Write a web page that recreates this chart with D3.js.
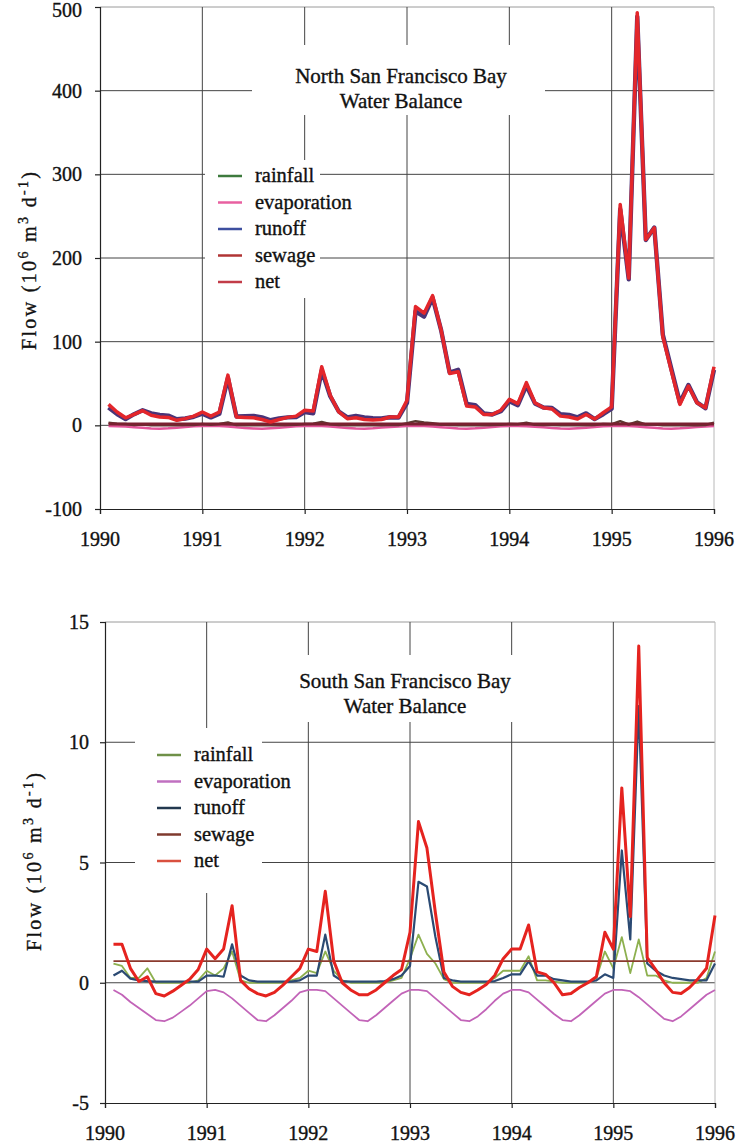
<!DOCTYPE html>
<html>
<head>
<meta charset="utf-8">
<script src="https://cdn.jsdelivr.net/npm/d3@7"></script>
<style>
    body { margin: 0; background: #fff; }
    svg text {
        font-family: "Liberation Serif", "Times New Roman", serif;
        fill: #111;
        stroke: #111;
        stroke-width: 0.35px;
    }
</style>
</head>
<body>
<svg id="chart" width="745" height="1148"></svg>
<script>
// year ticks shared by both panels
const years = [1990, 1991, 1992, 1993, 1994, 1995, 1996];
const seriesNames = ["rainfall", "evaporation", "runoff", "sewage", "net"];

const northTicks = [-100, 0, 100, 200, 300, 400, 500];
const southTicks = [-5, 0, 5, 10, 15];

// monthly flows, Jan 1990 .. Dec 1995 (10^6 m3/d)
const northRainfall = [
    3, 2, 1.5, 0.5, 1, 0, 0, 0, 0, 0.3, 0.5, 1.5,
    0.8, 1.5, 3.5, 0.3, 0, 0, 0, 0, 0, 0.5, 0.8, 1.5,
    1.8, 4, 1.2, 0.3, 0, 0, 0, 0, 0, 0.8, 0.5, 2.5,
    5, 3.5, 2.5, 1, 0.5, 0, 0, 0, 0, 0.5, 0.8, 1.5,
    1.2, 3, 0.8, 0.5, 0.3, 0, 0, 0, 0, 0.5, 1.5, 1.3,
    5, 1, 4.5, 1.2, 1, 0.2, 0, 0, 0, 0, 0.3, 3
];
const northEvaporation = [
    -0.8, -1, -1.5, -2.3, -3, -3.8, -4, -3.6, -2.8, -2, -1.2, -0.8,
    -0.8, -0.9, -1.5, -2.3, -3.1, -3.8, -4, -3.5, -2.8, -2, -1.2, -0.8,
    -0.8, -0.9, -1.5, -2.4, -3.1, -3.8, -4, -3.5, -2.7, -2, -1.3, -0.8,
    -0.8, -0.9, -1.5, -2.3, -3, -3.8, -4, -3.6, -2.8, -2, -1.2, -0.8,
    -0.8, -1, -1.6, -2.4, -3.1, -3.8, -4, -3.5, -2.8, -2, -1.2, -0.8,
    -0.8, -0.9, -1.4, -2.2, -3, -3.7, -4, -3.6, -2.9, -2.1, -1.3, -0.8
];
const northRunoff = [
    21.3, 13.5, 7.5, 13.3, 18, 14.3, 12.5, 11.6, 7.3, 8.2, 10.2, 13.8,
    9.5, 14, 56.5, 10.5, 11, 11.3, 9.5, 6.1, 8.3, 9.5, 9.9, 15.8,
    14.5, 65.5, 34.8, 16.5, 9.5, 11.3, 9.5, 8.6, 8.3, 9.7, 9.2, 26.8,
    136.3, 130, 152.5, 113.8, 63, 66.3, 25.5, 24.1, 14.3, 13, 16.9, 28.8,
    24.1, 47.5, 26.2, 21.3, 20.7, 13.3, 12.5, 9.6, 14.3, 7.5, 13.2, 20,
    258.3, 174.5, 488.5, 221.6, 236.5, 108.1, 67.5, 27.1, 48.3, 27.5, 20.4, 66.3
];
const northSewage = [
    1.5, 1.5, 1.5, 1.5, 1.5, 1.5, 1.5, 1.5, 1.5, 1.5, 1.5, 1.5,
    1.5, 1.5, 1.5, 1.5, 1.5, 1.5, 1.5, 1.5, 1.5, 1.5, 1.5, 1.5,
    1.5, 1.5, 1.5, 1.5, 1.5, 1.5, 1.5, 1.5, 1.5, 1.5, 1.5, 1.5,
    1.5, 1.5, 1.5, 1.5, 1.5, 1.5, 1.5, 1.5, 1.5, 1.5, 1.5, 1.5,
    1.5, 1.5, 1.5, 1.5, 1.5, 1.5, 1.5, 1.5, 1.5, 1.5, 1.5, 1.5,
    1.5, 1.5, 1.5, 1.5, 1.5, 1.5, 1.5, 1.5, 1.5, 1.5, 1.5, 1.5
];
const northNet = [
    25, 16, 9, 13, 17.5, 12, 10, 9.5, 6, 8, 11, 16,
    11, 16, 60, 10, 9.5, 9, 7, 4, 7, 9.5, 11, 18,
    17, 70, 36, 16, 8, 9, 7, 6.5, 7, 10, 10, 30,
    142, 134, 155, 114, 62, 64, 23, 22, 13, 13, 18, 31,
    26, 51, 27, 21, 19.5, 11, 10, 7.5, 13, 7.5, 15, 22,
    264, 176, 493, 222, 236, 106, 65, 25, 47, 27, 21, 70
];

const southRainfall = [
    0.8, 0.7, 0.2, 0.2, 0.6, 0, 0, 0, 0, 0, 0.1, 0.5,
    0.3, 0.6, 1.3, 0.1, 0, 0, 0, 0, 0, 0.1, 0.2, 0.5,
    0.4, 1.3, 0.5, 0.1, 0, 0, 0, 0, 0, 0.1, 0.2, 1.0,
    2.0, 1.2, 0.8, 0.15, 0, 0, 0, 0, 0, 0.2, 0.5, 0.5,
    0.5, 1.1, 0.1, 0.1, 0.05, 0, 0, 0, 0, 0.2, 1.3, 0.6,
    1.9, 0.4, 1.8, 0.3, 0.3, 0.1, 0, 0, 0, 0, 0.2, 1.3
];
const southEvaporation = [
    -0.3, -0.5, -0.8, -1.05, -1.3, -1.55, -1.6, -1.45, -1.2, -0.95, -0.65, -0.35,
    -0.3, -0.4, -0.65, -0.95, -1.25, -1.55, -1.6, -1.35, -1.05, -0.75, -0.4, -0.3,
    -0.3, -0.35, -0.65, -0.95, -1.25, -1.55, -1.6, -1.35, -1.05, -0.75, -0.45, -0.3,
    -0.3, -0.35, -0.65, -0.95, -1.25, -1.55, -1.6, -1.4, -1.1, -0.75, -0.45, -0.3,
    -0.3, -0.4, -0.7, -1.0, -1.3, -1.55, -1.6, -1.35, -1.05, -0.75, -0.45, -0.3,
    -0.3, -0.35, -0.6, -0.9, -1.2, -1.5, -1.6, -1.4, -1.1, -0.8, -0.5, -0.3
];
const southRunoff = [
    0.3, 0.5, 0.17, 0.1, 0.07, 0.05, 0.05, 0.05, 0.05, 0.05, 0.05, 0.3,
    0.3, 0.25, 1.6, 0.3, 0.1, 0.05, 0.05, 0.05, 0.05, 0.05, 0.1, 0.3,
    0.3, 2.0, 0.3, 0.07, 0.05, 0.05, 0.05, 0.05, 0.07, 0.15, 0.3, 0.7,
    4.2, 4.0, 1.9, 0.2, 0.1, 0.05, 0.05, 0.05, 0.05, 0.07, 0.2, 0.35,
    0.35, 0.9, 0.3, 0.3, 0.15, 0.1, 0.05, 0.05, 0.05, 0.1, 0.35, 0.2,
    5.5, 1.8, 11.5, 0.8, 0.5, 0.3, 0.2, 0.15, 0.1, 0.1, 0.1, 0.8
];
const southSewage = [
    0.9, 0.9, 0.9, 0.9, 0.9, 0.9, 0.9, 0.9, 0.9, 0.9, 0.9, 0.9,
    0.9, 0.9, 0.9, 0.9, 0.9, 0.9, 0.9, 0.9, 0.9, 0.9, 0.9, 0.9,
    0.9, 0.9, 0.9, 0.9, 0.9, 0.9, 0.9, 0.9, 0.9, 0.9, 0.9, 0.9,
    0.9, 0.9, 0.9, 0.9, 0.9, 0.9, 0.9, 0.9, 0.9, 0.9, 0.9, 0.9,
    0.9, 0.9, 0.9, 0.9, 0.9, 0.9, 0.9, 0.9, 0.9, 0.9, 0.9, 0.9,
    0.9, 0.9, 0.9, 0.9, 0.9, 0.9, 0.9, 0.9, 0.9, 0.9, 0.9, 0.9
];
const southNet = [
    1.6, 1.6, 0.6, 0.05, 0.25, -0.45, -0.55, -0.35, -0.1, 0.15, 0.55, 1.4,
    1.0, 1.4, 3.2, 0.1, -0.25, -0.45, -0.55, -0.4, -0.1, 0.25, 0.6, 1.4,
    1.3, 3.8, 0.9, 0.0, -0.3, -0.5, -0.5, -0.3, 0.0, 0.3, 0.55, 2.1,
    6.7, 5.6, 2.9, 0.45, -0.15, -0.4, -0.5, -0.3, -0.07, 0.3, 1.0, 1.4,
    1.4, 2.4, 0.45, 0.35, 0.0, -0.5, -0.45, -0.2, 0, 0.25, 2.1, 1.4,
    8.1, 2.75, 14.0, 1.05, 0.55, 0, -0.4, -0.45, -0.2, 0.17, 0.6, 2.8
];

const svg = d3.select("#chart");

// month i (0-based) is plotted at the end of that month
function monthYear(i) {
    return 1990 + (i + 1) / 12;
}

function drawPanel(p) {
    const g = svg.append("g");
    const x = d3.scaleLinear().domain([1990, 1996]).range([p.left, p.right]);
    const y = d3.scaleLinear().domain(p.yDomain).range([p.bottom, p.top]);

    // horizontal grid
    g.selectAll(".hgrid")
        .data(p.yTicks.filter(t => t !== p.yDomain[0]))
        .join("line")
        .attr("x1", p.left).attr("x2", p.right)
        .attr("y1", d => y(d)).attr("y2", d => y(d))
        .attr("stroke", d => (d === p.yDomain[1] ? "#9a9a9a" : "#444"))
        .attr("stroke-width", 1);

    // vertical grid, the last one is the light right border
    g.selectAll(".vgrid")
        .data(years.slice(1))
        .join("line")
        .attr("x1", d => x(d)).attr("x2", d => x(d))
        .attr("y1", p.top).attr("y2", p.bottom)
        .attr("stroke", d => (d === 1996 ? "#b8b8b8" : "#444"))
        .attr("stroke-width", 1);

    // white boxes of title and legend hide the grid
    for (const b of p.boxes) {
        g.append("rect")
            .attr("x", b[0]).attr("y", b[1])
            .attr("width", b[2] - b[0]).attr("height", b[3] - b[1])
            .attr("fill", "#fff");
    }

    const line = d3.line()
        .x((d, i) => x(monthYear(i)))
        .y(d => y(d));

    for (const name of p.drawOrder) {
        g.append("path")
            .datum(p.series[name])
            .attr("fill", "none")
            .attr("stroke", p.colors[name])
            .attr("stroke-width", p.widths[name])
            .attr("stroke-linejoin", "round")
            .attr("d", line);
    }

    // axes
    const yAxis = d3.axisLeft(y).tickValues(p.yTicks).tickSize(5).tickFormat("");
    g.append("g").attr("transform", `translate(${p.left},0)`).call(yAxis)
        .call(a => a.selectAll("path,line").attr("stroke", "#222").attr("stroke-width", 1.2));
    const xAxis = d3.axisBottom(x).tickValues(years).tickSize(5).tickFormat("");
    g.append("g").attr("transform", `translate(0,${p.bottom})`).call(xAxis)
        .call(a => a.selectAll("path,line").attr("stroke", "#222").attr("stroke-width", 1.2));

    // the top label sits on the page edge, nudge it in a little
    g.selectAll(".ylab")
        .data(p.yTicks)
        .join("text")
        .attr("x", p.yLabelX)
        .attr("y", d => Math.max(y(d) + 7, 17))
        .attr("text-anchor", "end")
        .attr("font-size", 20)
        .text(d => d);

    g.selectAll(".xlab")
        .data(years)
        .join("text")
        .attr("x", d => x(d))
        .attr("y", p.bottom + 37)
        .attr("text-anchor", "middle")
        .attr("font-size", 20)
        .text(d => d);

    // axis title with superscripts
    const lab = g.append("text")
        .attr("transform", `translate(${p.axisTitle[0]},${p.axisTitle[1]}) rotate(-90)`)
        .attr("text-anchor", "middle")
        .attr("font-size", 20)
        .attr("textLength", 178)
        .attr("lengthAdjust", "spacing");
    lab.append("tspan").text("Flow (10");
    lab.append("tspan").attr("dy", -8).attr("font-size", 14).text("6");
    lab.append("tspan").attr("dy", 8).text(" m");
    lab.append("tspan").attr("dy", -8).attr("font-size", 14).text("3");
    lab.append("tspan").attr("dy", 8).text(" d");
    lab.append("tspan").attr("dy", -8).attr("font-size", 14).text("-1");
    lab.append("tspan").attr("dy", 8).text(")");

    // title
    g.selectAll(".title")
        .data(p.title)
        .join("text")
        .attr("x", p.titlePos[0])
        .attr("y", (d, i) => p.titlePos[1] + i * 25)
        .attr("text-anchor", "middle")
        .attr("font-size", 21)
        .text(d => d);

    // legend
    const leg = g.append("g").attr("transform", `translate(${p.legendPos[0]},${p.legendPos[1]})`);
    seriesNames.forEach((name, i) => {
        const row = leg.append("g").attr("transform", `translate(0,${i * 26.5})`);
        row.append("line")
            .attr("x1", 0).attr("x2", 24)
            .attr("stroke", p.legendColors[name])
            .attr("stroke-width", 2.5);
        row.append("text")
            .attr("x", 37).attr("y", 6)
            .attr("font-size", 20.5)
            .text(name);
    });
}

drawPanel({
    left: 100, right: 714, top: 7, bottom: 509,
    yDomain: [-100, 500], yTicks: northTicks, yLabelX: 82,
    series: {
        rainfall: northRainfall, evaporation: northEvaporation,
        runoff: northRunoff, sewage: northSewage, net: northNet
    },
    drawOrder: ["evaporation", "rainfall", "sewage", "runoff", "net"],
    colors: {
        rainfall: "#5a3a30", evaporation: "#e4559a", runoff: "#4a3478",
        sewage: "#7a2030", net: "#e3262b"
    },
    widths: { rainfall: 2.5, evaporation: 2.5, runoff: 4.4, sewage: 3, net: 3.5 },
    legendColors: {
        rainfall: "#3d7a3d", evaporation: "#e860a0", runoff: "#3d4f9f",
        sewage: "#b03434", net: "#c23c48"
    },
    boxes: [[252, 45, 545, 115], [205, 160, 320, 298]],
    title: ["North San Francisco Bay", "Water Balance"],
    titlePos: [401, 83],
    legendPos: [218, 176],
    axisTitle: [36, 261]
});

drawPanel({
    left: 105, right: 715, top: 622, bottom: 1103,
    yDomain: [-5, 15], yTicks: southTicks, yLabelX: 89,
    series: {
        rainfall: southRainfall, evaporation: southEvaporation,
        runoff: southRunoff, sewage: southSewage, net: southNet
    },
    drawOrder: ["evaporation", "rainfall", "runoff", "sewage", "net"],
    colors: {
        rainfall: "#8db04f", evaporation: "#c264b8", runoff: "#2b4a73",
        sewage: "#8b3a2e", net: "#e5231f"
    },
    widths: { rainfall: 1.8, evaporation: 1.8, runoff: 2.2, sewage: 1.8, net: 3 },
    legendColors: {
        rainfall: "#6f9048", evaporation: "#c070c0", runoff: "#22384f",
        sewage: "#7f3a2e", net: "#d9503f"
    },
    boxes: [[285, 655, 525, 722], [135, 728, 262, 893]],
    title: ["South San Francisco Bay", "Water Balance"],
    titlePos: [405, 688],
    legendPos: [157, 755],
    axisTitle: [41, 862]
});
</script>
</body>
</html>
